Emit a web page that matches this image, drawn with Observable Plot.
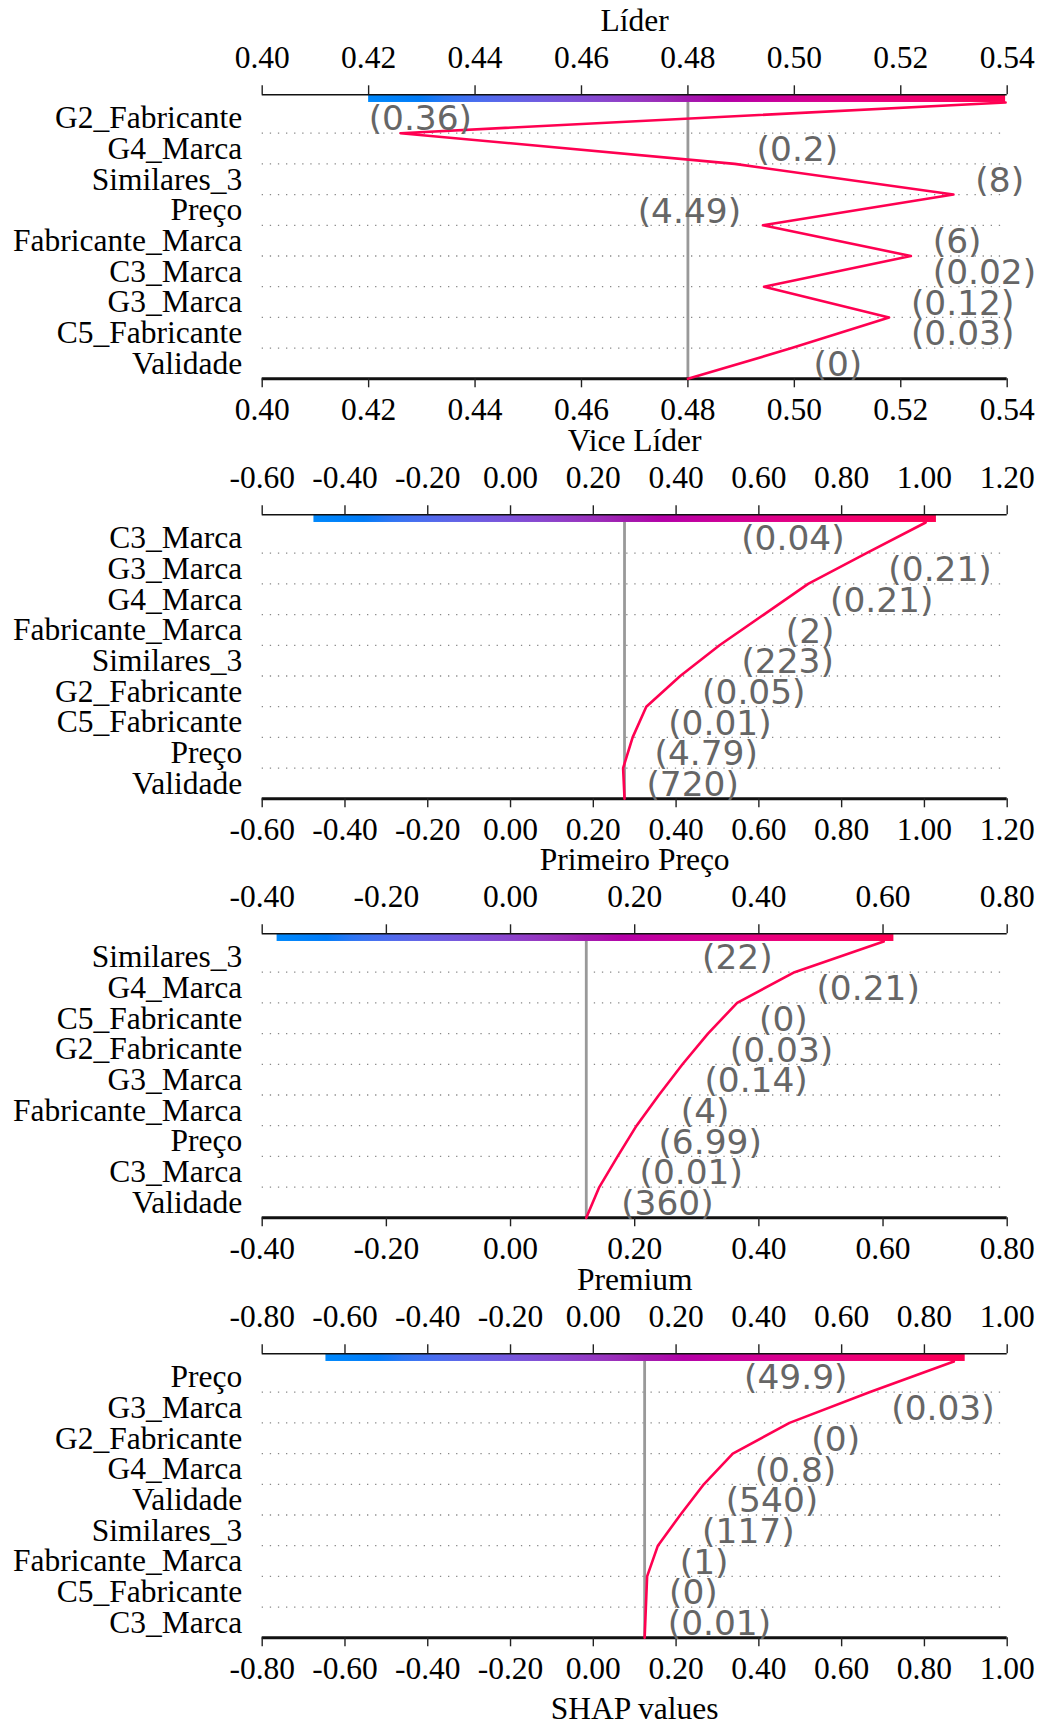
<!DOCTYPE html>
<html>
<head>
<meta charset="utf-8">
<script src="https://cdn.jsdelivr.net/npm/d3@7"></script>
<script src="https://cdn.jsdelivr.net/npm/@observablehq/plot@0.6"></script>
<style>
  body { margin: 0; background: #fff; }
  #wrap { position: relative; width: 1043px; height: 1722px; overflow: hidden; background: #fff; }
  #wrap svg { position: absolute; left: 0; overflow: visible; }
</style>
</head>
<body>
<div id="wrap"></div>
<script>
// ---------------- DATA ----------------
const titles = ["Líder", "Vice Líder", "Primeiro Preço", "Premium"];

// Features listed top -> bottom
const features1 = ["G2_Fabricante", "G4_Marca", "Similares_3", "Preço", "Fabricante_Marca", "C3_Marca", "G3_Marca", "C5_Fabricante", "Validade"];
const values1 = ["0.36", "0.2", "8", "4.49", "6", "0.02", "0.12", "0.03", "0"];
const labelSide1 = ["lim", "max", "max", "min", "max", "max", "max", "max", "max"];
// cumulative model output, from base value (bottom) to final output (top)
const cumulative1 = [0.48, 0.4995, 0.5178, 0.4943, 0.5219, 0.4941, 0.5299, 0.4888, 0.426, 0.5397];
const colorbar1 = [0.42, 0.5397];
const domain1 = [0.40, 0.54];
const ticks1 = [0.40, 0.42, 0.44, 0.46, 0.48, 0.50, 0.52, 0.54];

const features2 = ["C3_Marca", "G3_Marca", "G4_Marca", "Fabricante_Marca", "Similares_3", "G2_Fabricante", "C5_Fabricante", "Preço", "Validade"];
const values2 = ["0.04", "0.21", "0.21", "2", "223", "0.05", "0.01", "4.79", "720"];
const labelSide2 = ["min", "max", "max", "max", "max", "max", "max", "max", "max"];
const cumulative2 = [0.2754, 0.272, 0.295, 0.328, 0.41, 0.505, 0.612, 0.719, 0.86, 1.003];
const colorbar2 = [-0.475, 1.029];
const domain2 = [-0.6, 1.2];
const ticks2 = [-0.6, -0.4, -0.2, 0, 0.2, 0.4, 0.6, 0.8, 1.0, 1.2];

const features3 = ["Similares_3", "G4_Marca", "C5_Fabricante", "G2_Fabricante", "G3_Marca", "Fabricante_Marca", "Preço", "C3_Marca", "Validade"];
const values3 = ["22", "0.21", "0", "0.03", "0.14", "4", "6.99", "0.01", "360"];
const labelSide3 = ["min", "max", "max", "max", "max", "max", "max", "max", "max"];
const cumulative3 = [0.122, 0.143, 0.1725, 0.203, 0.239, 0.277, 0.318, 0.365, 0.4575, 0.601];
const colorbar3 = [-0.376, 0.6175];
const domain3 = [-0.4, 0.8];
const ticks3 = [-0.4, -0.2, 0, 0.2, 0.4, 0.6, 0.8];

const features4 = ["Preço", "G3_Marca", "G2_Fabricante", "G4_Marca", "Validade", "Similares_3", "Fabricante_Marca", "C5_Fabricante", "C3_Marca"];
const values4 = ["49.9", "0.03", "0", "0.8", "540", "117", "1", "0", "0.01"];
const labelSide4 = ["min", "max", "max", "max", "max", "max", "max", "max", "max"];
const cumulative4 = [0.124, 0.127, 0.130, 0.156, 0.21, 0.267, 0.337, 0.474, 0.667, 0.871];
const colorbar4 = [-0.646, 0.8985];
const domain4 = [-0.8, 1.0];
const ticks4 = [-0.8, -0.6, -0.4, -0.2, 0, 0.2, 0.4, 0.6, 0.8, 1.0];

const xAxisLabel = "SHAP values";

// ---------------- LAYOUT ----------------
const panels = [
  {title: titles[0], features: features1, values: values1, sides: labelSide1, cum: cumulative1, bar: colorbar1, domain: domain1, ticks: ticks1},
  {title: titles[1], features: features2, values: values2, sides: labelSide2, cum: cumulative2, bar: colorbar2, domain: domain2, ticks: ticks2},
  {title: titles[2], features: features3, values: values3, sides: labelSide3, cum: cumulative3, bar: colorbar3, domain: domain3, ticks: ticks3},
  {title: titles[3], features: features4, values: values4, sides: labelSide4, cum: cumulative4, bar: colorbar4, domain: domain4, ticks: ticks4}
];

const W = 1043;
const PANEL_STEP = 419.7;
const MT = 94.3;          // top axis position inside each panel
const FRAME_H = 284;      // top axis -> bottom axis
const YTOP = 9.25;        // y value of the top axis (rows 0..9 + colorbar band)
const PX_PER_Y = FRAME_H / YTOP;
const TICK = 9 / PX_PER_Y;
const SERIF = "'Liberation Serif', 'Times New Roman', serif";
const SANS = "'DejaVu Sans', sans-serif";
const FS = 31.5;
const VFS = 34.4;
const PAD = 0.636 * VFS;  // two spaces
const RED = "#ff0051";

function shapColor(t) {
  const l = t < 0.5 ? 54 + (40 - 54) * (t / 0.5) : 40 + (54 - 40) * ((t - 0.5) / 0.5);
  const c = 70 + 20 * t;
  const h = 266.933 + t * (380.323 - 266.933);
  return d3.hcl(h, c, l).formatHex();
}

const wrap = document.getElementById("wrap");

panels.forEach((P, i) => {
  const last = i === panels.length - 1;
  const H = last ? 463 : 420;
  const n = P.features.length;
  const rows = P.features.map((f, k) => {
    const idx = n - 1 - k;
    const a = P.cum[idx], b = P.cum[idx + 1];
    const lo = Math.min(a, b), hi = Math.max(a, b);
    const side = P.sides[k];
    return {feature: f, label: "(" + P.values[k] + ")", side, y: idx + 0.5,
            x: side === "max" ? hi : side === "min" ? lo : P.bar[0]};
  });
  const path = P.cum.map((c, j) => ({x: c, y: j}));
  const gridYs = d3.range(1, n);

  const marks = [
    Plot.ruleY(gridYs, {y: d => d, stroke: "#888", strokeWidth: 1.3, strokeDasharray: "1.3,6.8"}),
    Plot.ruleX([P.cum[0]], {x: d => d, y1: () => 0, y2: () => 9, stroke: "#999", strokeWidth: 2.8}),
    Plot.ruleY([0], {y: d => d, stroke: "#111", strokeWidth: 3}),
    Plot.ruleX(P.ticks, {x: d => d, y1: () => 0, y2: () => -TICK, stroke: "#222", strokeWidth: 1.4}),
    Plot.line(path, {x: "x", y: "y", stroke: RED, strokeWidth: 2.6}),
    Plot.rect([P.bar], {x1: d => d[0], x2: d => d[1], y1: () => 9, y2: () => YTOP, fill: `url(#cb${i})`}),
    Plot.ruleY([YTOP], {y: d => d, stroke: "#111", strokeWidth: 1.5}),
    Plot.ruleX(P.ticks, {x: d => d, y1: () => YTOP, y2: () => YTOP + TICK, stroke: "#222", strokeWidth: 1.4}),
    Plot.text(P.ticks, {x: d => d, y: () => YTOP, text: d => d.toFixed(2), dy: -26.8, lineAnchor: "bottom",
      fontFamily: SERIF, fontSize: FS, fill: "#000"}),
    Plot.text(P.ticks, {x: d => d, y: () => 0, text: d => d.toFixed(2), dy: 40.7, lineAnchor: "bottom",
      fontFamily: SERIF, fontSize: FS, fill: "#000"}),
    Plot.text(rows, {x: () => P.domain[0], y: "y", text: "feature", dx: -20, dy: 10.4, textAnchor: "end",
      lineAnchor: "bottom", fontFamily: SERIF, fontSize: FS, fill: "#000"}),
    Plot.text(rows.filter(r => r.side === "max"), {x: "x", y: "y", text: "label", dx: PAD, dy: 12.6, textAnchor: "start",
      lineAnchor: "bottom", fontFamily: SANS, fontSize: VFS, fill: "#666"}),
    Plot.text(rows.filter(r => r.side === "min"), {x: "x", y: "y", text: "label", dx: -PAD, dy: 12.6, textAnchor: "end",
      lineAnchor: "bottom", fontFamily: SANS, fontSize: VFS, fill: "#666"}),
    Plot.text(rows.filter(r => r.side === "lim"), {x: "x", y: "y", text: "label", dx: 0, dy: 12.6, textAnchor: "start",
      lineAnchor: "bottom", fontFamily: SANS, fontSize: VFS, fill: "#666"}),
    Plot.text([P.title], {frameAnchor: "top", text: d => d, dy: -63.6, lineAnchor: "bottom",
      fontFamily: SERIF, fontSize: FS, fill: "#000"})
  ];
  if (last) {
    marks.push(Plot.text([xAxisLabel], {frameAnchor: "bottom", text: d => d, dy: 81, lineAnchor: "bottom",
      fontFamily: SERIF, fontSize: FS, fill: "#000"}));
  }

  const svg = Plot.plot({
    width: W,
    height: H,
    marginTop: MT,
    marginBottom: H - MT - FRAME_H,
    marginLeft: 261.7,
    marginRight: W - 1006.7,
    style: {background: "transparent", overflow: "visible"},
    x: {domain: P.domain, axis: null},
    y: {domain: [0, YTOP], axis: null},
    marks
  });

  const ns = "http://www.w3.org/2000/svg";
  const defs = document.createElementNS(ns, "defs");
  const grad = document.createElementNS(ns, "linearGradient");
  grad.setAttribute("id", "cb" + i);
  grad.setAttribute("x1", "0"); grad.setAttribute("x2", "1");
  grad.setAttribute("y1", "0"); grad.setAttribute("y2", "0");
  for (let k = 0; k <= 50; k++) {
    const t = k / 50;
    const s = document.createElementNS(ns, "stop");
    s.setAttribute("offset", t);
    s.setAttribute("stop-color", shapColor(t));
    grad.appendChild(s);
  }
  defs.appendChild(grad);
  svg.insertBefore(defs, svg.firstChild);
  svg.style.top = (i * PANEL_STEP) + "px";
  wrap.appendChild(svg);
});
</script>
</body>
</html>
